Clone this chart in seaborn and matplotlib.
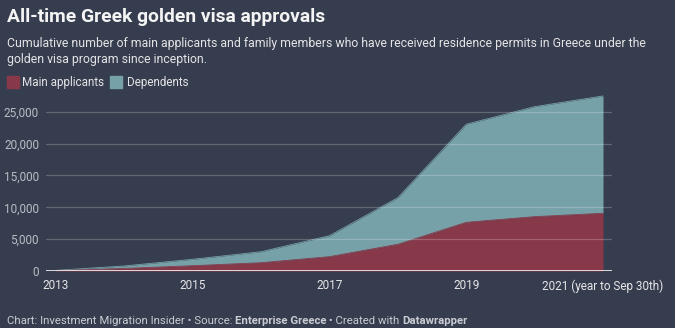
import matplotlib
matplotlib.use("Agg")
import matplotlib.pyplot as plt
import seaborn as sns
import pandas as pd
import numpy as np
from matplotlib.patches import Rectangle

years = [2013, 2014, 2015, 2016, 2017, 2018, 2019, 2020, 2021]
main_applicants = [50, 400, 830, 1300, 2250, 4190, 7640, 8530, 9060]
total_permits = [100, 790, 1840, 3030, 5540, 11510, 23030, 25790, 27470]
dependents = [t - m for t, m in zip(total_permits, main_applicants)]
x_ticks = [2013, 2015, 2017, 2019, 2021]
x_tick_labels = ["2013", "2015", "2017", "2019", "2021 (year to Sep 30th)"]
y_ticks = [0, 5000, 10000, 15000, 20000, 25000]
series_names = ["Main applicants", "Dependents"]

BG = "#363d4e"
RED = "#873849"
TEAL = "#76a1a8"

sns.set_theme(style="white")
plt.rcParams["font.family"] = ["Roboto", "DejaVu Sans"]

df = pd.DataFrame({"year": years, "Main applicants": main_applicants,
                   "Dependents": dependents})
df["total"] = df["Main applicants"] + df["Dependents"]

W, H = 675, 328
fig = plt.figure(figsize=(W / 100, H / 100), dpi=100, facecolor=BG)
ax = fig.add_axes([46 / W, (H - 271) / H, (612 - 46) / W, (271 - 90) / H])
ax.set_facecolor(BG)

ax.fill_between(df["year"], df["Main applicants"], df["total"], color=TEAL, lw=0, zorder=2)
ax.fill_between(df["year"], 0, df["Main applicants"], color=RED, lw=0, zorder=2)
sns.lineplot(data=df, x="year", y="total", ax=ax, color=TEAL, lw=0.6, zorder=3)
sns.lineplot(data=df, x="year", y="Main applicants", ax=ax, color=RED, lw=0.6, zorder=3)

ax.set_xlim(2013 - 10 / 68.4, 2021 + 9 / 68.4)
ax.set_ylim(0, 28405)
for yv in y_ticks[1:]:
    ax.axhline(yv, color="white", alpha=0.22, lw=0.9, zorder=4)
ax.axhline(0, color="#e8e8ea", lw=1.3, zorder=5)

ax.set_xticks(x_ticks)
ax.set_xticklabels(x_tick_labels)
ax.set_yticks(y_ticks)
ax.set_yticklabels([f"{v:,}" for v in y_ticks])
ax.tick_params(axis="x", length=0, pad=6, labelsize=8.5, colors="#e6e6e8")
ax.tick_params(axis="y", length=0, pad=5, labelsize=8.5, colors="#b9bdc5")
ax.set_xlabel("")
ax.set_ylabel("")
for s in ax.spines.values():
    s.set_visible(False)
ax.grid(False)

def fy(px):
    return 1 - px / H

fig.text(6.5 / W, fy(21.7), "All-time Greek golden visa approvals", fontsize=13.9,
         fontweight="bold", color="#f4f4f4", va="baseline", ha="left")
fig.text(6.5 / W, fy(47.3),
         "Cumulative number of main applicants and family members who have received residence permits in Greece under the",
         fontsize=8.8, color="#e4e4e6", va="baseline", ha="left")
fig.text(6.5 / W, fy(62.5), "golden visa program since inception.",
         fontsize=8.8, color="#e4e4e6", va="baseline", ha="left")

# legend
for (x0, xt), name, col in zip([(7, 22.5), (110, 127)], series_names, [RED, TEAL]):
    fig.patches.append(Rectangle((x0 / W, fy(87.5)), 12 / W, 11.5 / H, transform=fig.transFigure,
                                 color=col, zorder=3))
    fig.text(xt / W, fy(85.5), name, fontsize=8.4, color="#e4e4e6", va="baseline", ha="left")

# footer with mixed weights
fig.canvas.draw()
renderer = fig.canvas.get_renderer()
parts = [("Chart: Investment Migration Insider \u2022 Source: ", "normal"),
         ("Enterprise Greece", "bold"),
         (" \u2022 Created with ", "normal"),
         ("Datawrapper", "bold")]
xpos = 6.5 / W
for txt, wt in parts:
    t = fig.text(xpos, fy(323.5), txt, fontsize=8.2, fontweight=wt, color="#c9ccd2",
                 va="baseline", ha="left")
    bb = t.get_window_extent(renderer=renderer)
    xpos += bb.width / W

fig.savefig("out.png", dpi=100, facecolor=BG)
